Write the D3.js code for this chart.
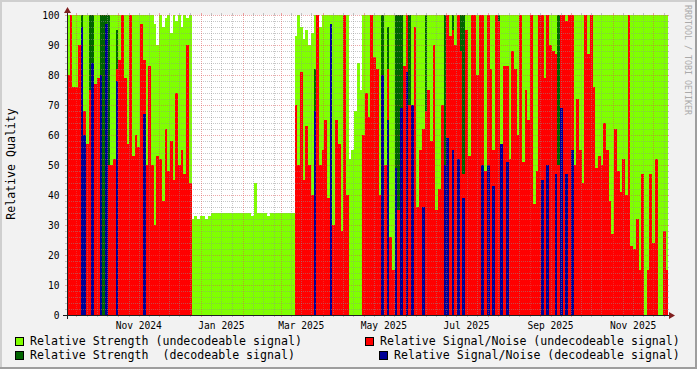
<!DOCTYPE html>
<html>
<head>
<meta charset="utf-8">
<script src="https://d3js.org/d3.v7.min.js"></script>
<style>
body { margin: 0; background: #f2f2f2; }
svg { display: block; }
text { font-family: "DejaVu Sans Mono", monospace; }
</style>
</head>
<body>
<svg id="chart"></svg>
<script>
// time axis: 2-day bins from Sep 24 2024 to Dec 11 2025
var startDate = new Date(Date.UTC(2024, 8, 24));
var endDate = new Date(Date.UTC(2025, 11, 11));
var binDays = 2;

// Relative Strength (undecodeable signal)
var strengthUndec = [
 100,100,100,100,100,100,100,100,100,100, 100,100,100,100,100,100,100,100,100,100,
 100,100,100,100,100,100,100,100,100,100, 100,
 100,97,90,100,96,99,100,94,100,98,100,96,100,99,100,
 32,33,32,33,33,32,33,34,34,34, 34,34,34,34,34,34,34,34,34,34,
 34,34,33,44,34,34,34,34,33,34, 34,34,34,34,34,34,34,34,
 93,100,96,92,95,90,94,100,100,96, 100,100,100,100,100,100,100,100,100,100,
 52,55,68,84,75,
 100,100,100,100,100,100,100,100,100,100, 100,100,100,100,100,100,100,100,100,100,
 100,100,100,100,100,100,100,100,100,100, 100,100,100,100,100,100,100,100,100,100,
 100,100,100,100,100,100,100,100,100,100, 100,100,100,100,100,100,100,100,100,100,
 100,100,100,100,100,100,100,100,100,100, 100,100,100,100,100,100,100,100,100,100,
 100,100,100,100,100,100,100,100,100,100, 100,100,100,100,100,100,100,100,100,100,
 100,100,100,100,100,100,100,100,100,100, 100,100,100
];

// Relative Strength (decodeable signal)
var strengthDec = [
 0,0,0,0,0,100,0,0,100,100, 0,0,100,100,100,100,0,0,95,0,
 0,0,0,0,0,0,0,0,0,0, 0,0,0,0,0,0,0,0,0,0,
 0,0,0,0,0,0,0,0,0,0, 0,0,0,0,0,0,0,0,0,0,
 0,0,0,0,0,0,0,0,0,0, 0,0,0,0,0,0,0,0,0,0,
 0,0,0,0,0,0,0,0,0,0, 0,82,0,0,0,0,0,0,0,0,
 0,0,0,0,0,0,0,0,0,0, 0,0,0,0,0,0,100,0,96,0,
 0,100,100,100,0,0,100,0,0,0, 0,0,100,0,0,0,0,0,0,100,
 0,0,100,0,0,100,100,0,0,0, 0,0,0,0,0,0,0,0,0,100,
 0,83,0,0,0,0,0,0,0,0, 0,0,0,0,0,100,0,0,0,0,
 0,100,0,0,0,0,100,0,0,0, 0,0,0,0,0,0,0,0,0,0,
 0,0,0,0,0,0,0,0,0,0, 0,0,0,0,0,0,0,0,0,0,
 0,0
];

// Relative Signal/Noise (undecodeable signal)
var snrUndec = [
 80,100,76,76,90,65,68,57,75,80, 77,79,0,0,0,50,50,52,82,85,
 100,79,57,100,53,60,56,97,85,50, 83,50,30,53,52,38,62,48,58,45,
 74,50,55,47,90,44,
 0,0,0,0,0,0,0,0,0,0, 0,0,0,0,0,0,0,0,0,0,
 0,0,0,0,0,0,0,0,0,0, 0,0,0,0,0,0,0,0,
 70,50,81,45,63,50,40,50,100,50, 55,65,39,46,30,65,57,28,100,40,
 0,0,0,0,0,
 60,74,66,100,86,82,40,44,50,82, 26,15,35,35,33,83,100,70,70,96,
 36,55,62,68,75,58,90,35,42,70, 50,100,93,95,90,100,88,47,95,53,
 100,100,80,100,100,48,100,82,55,100, 98,52,83,83,52,88,82,60,100,51,
 75,65,100,37,48,100,100,79,100,90, 88,87,50,100,100,98,100,100,50,72,
 55,44,100,87,100,76,49,53,50,64, 55,38,27,62,48,41,52,40,100,23,
 22,32,15,47,0,15,47,24,52,0, 0,28,15
];

// Relative Signal/Noise (decodeable signal)
var snrDec = [
 0,0,0,0,0,96,60,0,0,84, 0,0,80,0,97,0,0,0,78,0,
 0,0,0,0,0,0,0,0,67,0, 0,0,0,0,0,0,0,0,0,0,
 0,0,0,0,0,0,0,0,0,0, 0,0,0,0,0,0,0,0,0,0,
 0,0,0,0,0,0,0,0,0,0, 0,0,0,0,0,0,0,0,0,0,
 0,0,0,0,0,0,0,0,0,0, 0,68,0,0,0,0,0,97,0,0,
 0,0,0,0,0,0,0,0,0,0, 0,0,0,0,0,0,80,0,65,0,
 0,49,0,69,0,81,0,70,0,0, 0,36,0,0,0,0,0,0,0,50,
 59,0,55,0,52,0,39,0,0,0, 0,0,0,50,0,50,0,43,0,0,
 57,0,51,0,0,0,0,0,0,0, 0,0,0,0,0,45,0,50,0,0,
 47,0,69,0,47,0,55,0,0,0, 0,0,0,0,0,0,0,0,0,0,
 0,0,0,0,0,0,0,0,0,0, 0,0,0,0,0,0,0,0,0,0,
 0,0
];

var yTicks = [0, 10, 20, 30, 40, 50, 60, 70, 80, 90, 100];
var monthLabels = ["Nov 2024", "Jan 2025", "Mar 2025", "May 2025", "Jul 2025", "Sep 2025", "Nov 2025"];
var legendNames = [
  "Relative Strength (undecodeable signal)",
  "Relative Strength  (decodeable signal)",
  "Relative Signal/Noise (undecodeable signal)",
  "Relative Signal/Noise (decodeable signal)"
];
var colors = ["#80ff00", "#006400", "#ff0000", "#000096"];

var W = 697, H = 369;
var X0 = 67, X1 = 667, Y0 = 315, Y1 = 15;

var svg = d3.select("#chart").attr("width", W).attr("height", H);

svg.append("rect").attr("width", W).attr("height", H).attr("fill", "#f2f2f2");
svg.append("path").attr("d", "M0,0H" + W + "V2H2V" + H + "H0Z").attr("fill", "#cfcfcf");
svg.append("path").attr("d", "M" + W + "," + H + "H0V" + (H - 2) + "H" + (W - 2) + "V0H" + W + "Z").attr("fill", "#9e9e9e");

svg.append("rect").attr("x", X0).attr("y", Y1).attr("width", X1 - X0).attr("height", Y0 - Y1).attr("fill", "#ffffff");

var x = d3.scaleUtc().domain([startDate, endDate]).range([X0, X1]);
var y = d3.scaleLinear().domain([0, 100]).range([Y0, Y1]);

var dates = d3.range(strengthUndec.length).map(function(i) {
  return d3.utcDay.offset(startDate, i * binDays);
});

function drawSeries(values, color) {
  var data = values.map(function(v, i) {
    return { v: v, t0: dates[i], t1: d3.utcDay.offset(dates[i], binDays) };
  }).filter(function(d) { return d.v > 0; });
  svg.append("g").attr("shape-rendering", "crispEdges")
    .selectAll("rect").data(data).join("rect")
    .attr("x", function(d) { return Math.round(x(d.t0)); })
    .attr("width", function(d) { return Math.round(x(d.t1)) - Math.round(x(d.t0)); })
    .attr("y", function(d) { return Math.round(y(d.v)); })
    .attr("height", function(d) { return Y0 - Math.round(y(d.v)); })
    .attr("fill", color);
}
drawSeries(strengthUndec, colors[0]);
drawSeries(strengthDec, colors[1]);
drawSeries(snrUndec, colors[2]);
drawSeries(snrDec, colors[3]);

// grid on top of the data
var gridCol = "rgba(143,143,143,0.5)", mgridCol = "rgba(222,79,79,0.5)";
var grid = svg.append("g").attr("shape-rendering", "crispEdges").attr("stroke-width", 1);

d3.range(0, 101, 2).forEach(function(v) {
  var major = v % 10 === 0;
  var yy = Math.round(y(v)) + 0.5;
  var c = major ? mgridCol : gridCol;
  grid.append("line").attr("x1", X0).attr("x2", X1).attr("y1", yy).attr("y2", yy)
    .attr("stroke", c).attr("stroke-dasharray", "1,1");
  grid.append("line").attr("x1", X0 - 2).attr("x2", X0).attr("y1", yy).attr("y2", yy).attr("stroke", c);
  grid.append("line").attr("x1", X1).attr("x2", X1 + 2).attr("y1", yy).attr("y2", yy).attr("stroke", c);
});

// major lines at month starts, three minor lines per month
var months = d3.utcMonth.range(d3.utcMonth.floor(startDate), endDate);
var minors = [];
months.forEach(function(m) {
  [180, 360, 540].forEach(function(h) { minors.push(d3.utcHour.offset(m, h)); });
});
function vline(t, c) {
  if (t < startDate || t > endDate) return;
  var xx = Math.round(x(t)) + 0.5;
  grid.append("line").attr("x1", xx).attr("x2", xx).attr("y1", Y1).attr("y2", Y0)
    .attr("stroke", c).attr("stroke-dasharray", "1,1");
  grid.append("line").attr("x1", xx).attr("x2", xx).attr("y1", Y0).attr("y2", Y0 + 2).attr("stroke", c);
  grid.append("line").attr("x1", xx).attr("x2", xx).attr("y1", Y1 - 2).attr("y2", Y1).attr("stroke", c);
}
minors.forEach(function(t) { vline(t, gridCol); });
months.forEach(function(t) { vline(t, mgridCol); });

// axes
var axisCol = "#1f1f1f", arrowCol = "#801f1f";
svg.append("line").attr("x1", X0 - 4).attr("x2", X1 + 4).attr("y1", Y0 + 0.5).attr("y2", Y0 + 0.5)
  .attr("stroke", axisCol).attr("shape-rendering", "crispEdges");
svg.append("line").attr("x1", X0 + 0.5).attr("x2", X0 + 0.5).attr("y1", Y0 + 4).attr("y2", Y1 - 4)
  .attr("stroke", axisCol).attr("shape-rendering", "crispEdges");
svg.append("path").attr("d", "M" + (X1 + 2) + "," + (Y0 - 3) + "L" + (X1 + 2) + "," + (Y0 + 4) + "L" + (X1 + 8) + "," + (Y0 + 0.5) + "Z")
  .attr("fill", arrowCol);
svg.append("path").attr("d", "M" + (X0 - 3) + "," + (Y1 - 2) + "L" + (X0 + 4) + "," + (Y1 - 2) + "L" + (X0 + 0.5) + "," + (Y1 - 8) + "Z")
  .attr("fill", arrowCol);

// y labels
svg.append("g").selectAll("text").data(yTicks).join("text")
  .attr("x", 59.5).attr("y", function(d) { return y(d) + 3.5; })
  .attr("text-anchor", "end").attr("font-size", "9.6px").attr("fill", "#000")
  .text(function(d) { return d; });

// x labels, centred half a month after the month start
var parseMonth = d3.utcParse("%b %Y");
svg.append("g").selectAll("text").data(monthLabels).join("text")
  .attr("x", function(d) { return x(d3.utcDay.offset(parseMonth(d), 15)); })
  .attr("y", 328.5)
  .attr("text-anchor", "middle").attr("font-size", "9.6px").attr("fill", "#000")
  .text(function(d) { return d; });

// y title
svg.append("text").attr("transform", "translate(14.5,164) rotate(-90)")
  .attr("text-anchor", "middle").attr("font-size", "11.58px").attr("fill", "#000")
  .text("Relative Quality");

// watermark
svg.append("text").attr("transform", "translate(684.5,5) rotate(90)")
  .attr("font-size", "8.3px").attr("fill", "#aaaaaa")
  .text("RRDTOOL / TOBI OETIKER");

// legend
var legendPos = [
  { bx: 15, tx: 30, ty: 345 },
  { bx: 15, tx: 30, ty: 359 },
  { bx: 365, tx: 380, ty: 345 },
  { bx: 379, tx: 394, ty: 359 }
];
var legend = svg.append("g").selectAll("g").data(legendNames).join("g");
legend.append("rect")
  .attr("x", function(d, i) { return legendPos[i].bx + 0.5; })
  .attr("y", function(d, i) { return legendPos[i].ty - 7.5; })
  .attr("width", 8).attr("height", 8)
  .attr("fill", function(d, i) { return colors[i]; })
  .attr("stroke", "#000").attr("stroke-width", 1);
legend.append("text")
  .attr("x", function(d, i) { return legendPos[i].tx; })
  .attr("y", function(d, i) { return legendPos[i].ty; })
  .attr("font-size", "11.58px").attr("fill", "#000")
  .style("white-space", "pre")
  .text(function(d) { return d; });
</script>
</body>
</html>
